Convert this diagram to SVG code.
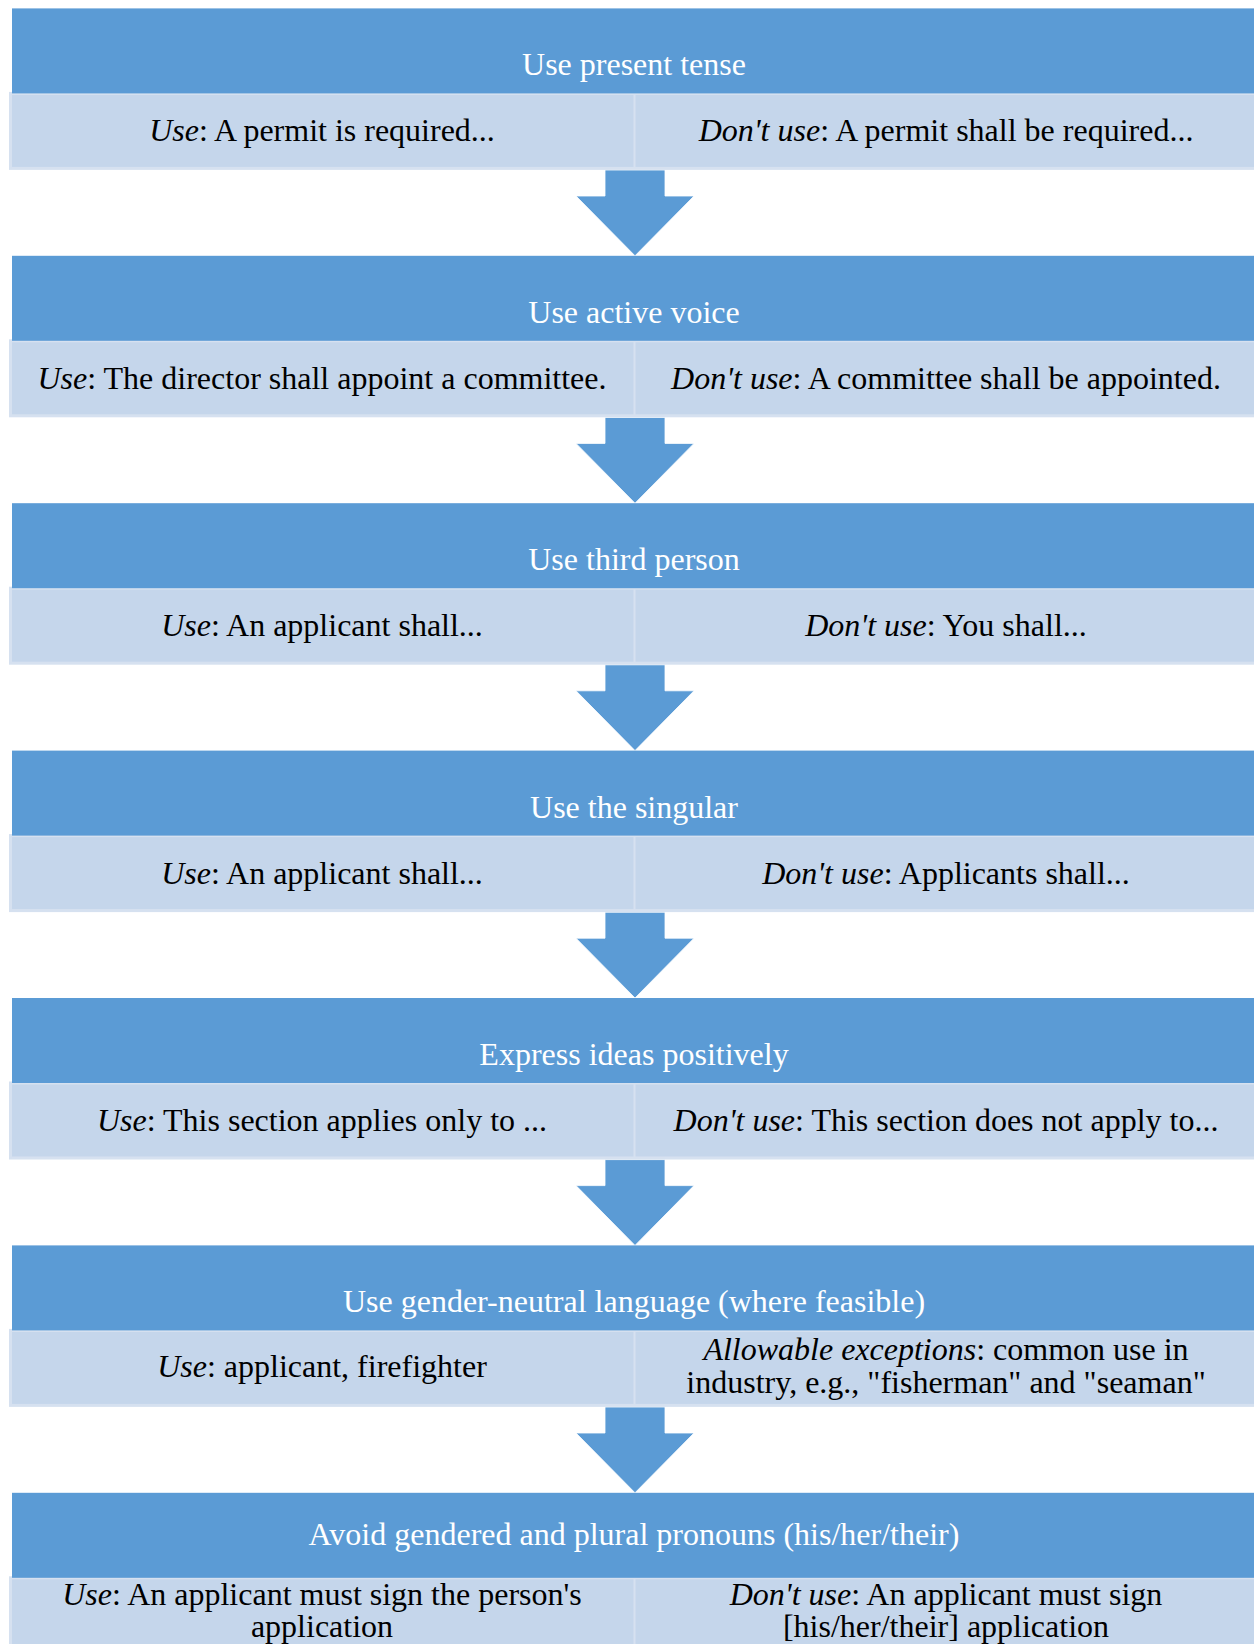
<svg xmlns="http://www.w3.org/2000/svg" width="1254" height="1644" viewBox="0 0 1254 1644">
<style>
  .hdr { fill: #5B9BD5; }
  .row { fill: #C5D6EB; stroke: #D6E1F0; stroke-width: 3; }
  .div { stroke: #D6E1F0; stroke-width: 2; }
  .arrow { fill: #5B9BD5; stroke: #FFFFFF; stroke-width: 0.8; }
  text { font-family: "Liberation Serif", "Times New Roman", serif; font-size: 32px; text-anchor: middle; }
  .ht { fill: #FFFFFF; }
  .ct { fill: #000000; }
  .i { font-style: italic; }
</style>
<rect width="1254" height="1644" fill="#FFFFFF"/>

<g id="connectors">
  <polygon class="arrow" points="605,170 665,170 665,196 694,196 635,255.8 576,196 605,196"/>
  <polygon class="arrow" points="605,417.4 665,417.4 665,443.4 694,443.4 635,503.2 576,443.4 605,443.4"/>
  <polygon class="arrow" points="605,664.8 665,664.8 665,690.8 694,690.8 635,750.6 576,690.8 605,690.8"/>
  <polygon class="arrow" points="605,912.2 665,912.2 665,938.2 694,938.2 635,998 576,938.2 605,938.2"/>
  <polygon class="arrow" points="605,1159.6 665,1159.6 665,1185.6 694,1185.6 635,1245.4 576,1185.6 605,1185.6"/>
  <polygon class="arrow" points="605,1407 665,1407 665,1433 694,1433 635,1492.8 576,1433 605,1433"/>
</g>

<g id="step1">
  <rect class="row" x="10.5" y="93.4" width="1250" height="75"/>
  <line class="div" x1="634.5" y1="93.4" x2="634.5" y2="168.4"/>
  <rect class="hdr" x="12" y="8.4" width="1250" height="85"/>
  <text class="ht" x="634" y="75.4">Use present tense</text>
  <text class="ct" x="322" y="141.4"><tspan class="i">Use</tspan>: A permit is required...</text>
  <text class="ct" x="946" y="141.4"><tspan class="i">Don't use</tspan>: A permit shall be required...</text>
</g>

<g id="step2">
  <rect class="row" x="10.5" y="340.8" width="1250" height="75"/>
  <line class="div" x1="634.5" y1="340.8" x2="634.5" y2="415.8"/>
  <rect class="hdr" x="12" y="255.8" width="1250" height="85"/>
  <text class="ht" x="634" y="322.8">Use active voice</text>
  <text class="ct" x="322" y="388.8"><tspan class="i">Use</tspan>: The director shall appoint a committee.</text>
  <text class="ct" x="946" y="388.8"><tspan class="i">Don't use</tspan>: A committee shall be appointed.</text>
</g>

<g id="step3">
  <rect class="row" x="10.5" y="588.2" width="1250" height="75"/>
  <line class="div" x1="634.5" y1="588.2" x2="634.5" y2="663.2"/>
  <rect class="hdr" x="12" y="503.2" width="1250" height="85"/>
  <text class="ht" x="634" y="570.2">Use third person</text>
  <text class="ct" x="322" y="636.2"><tspan class="i">Use</tspan>: An applicant shall...</text>
  <text class="ct" x="946" y="636.2"><tspan class="i">Don't use</tspan>: You shall...</text>
</g>

<g id="step4">
  <rect class="row" x="10.5" y="835.6" width="1250" height="75"/>
  <line class="div" x1="634.5" y1="835.6" x2="634.5" y2="910.6"/>
  <rect class="hdr" x="12" y="750.6" width="1250" height="85"/>
  <text class="ht" x="634" y="817.6">Use the singular</text>
  <text class="ct" x="322" y="883.6"><tspan class="i">Use</tspan>: An applicant shall...</text>
  <text class="ct" x="946" y="883.6"><tspan class="i">Don't use</tspan>: Applicants shall...</text>
</g>

<g id="step5">
  <rect class="row" x="10.5" y="1083" width="1250" height="75"/>
  <line class="div" x1="634.5" y1="1083" x2="634.5" y2="1158"/>
  <rect class="hdr" x="12" y="998" width="1250" height="85"/>
  <text class="ht" x="634" y="1065">Express ideas positively</text>
  <text class="ct" x="322" y="1131"><tspan class="i">Use</tspan>: This section applies only to ...</text>
  <text class="ct" x="946" y="1131"><tspan class="i">Don't use</tspan>: This section does not apply to...</text>
</g>

<g id="step6">
  <rect class="row" x="10.5" y="1330.4" width="1250" height="75"/>
  <line class="div" x1="634.5" y1="1330.4" x2="634.5" y2="1405.4"/>
  <rect class="hdr" x="12" y="1245.4" width="1250" height="85"/>
  <text class="ht" x="634" y="1312">Use gender-neutral language (where feasible)</text>
  <text class="ct" x="322" y="1377"><tspan class="i">Use</tspan>: applicant, firefighter</text>
  <text class="ct" x="946" y="1360"><tspan class="i">Allowable exceptions</tspan>: common use in</text>
  <text class="ct" x="946" y="1393">industry, e.g., "fisherman" and "seaman"</text>
</g>

<g id="step7">
  <rect class="row" x="10.5" y="1577.8" width="1250" height="75"/>
  <line class="div" x1="634.5" y1="1577.8" x2="634.5" y2="1652.8"/>
  <rect class="hdr" x="12" y="1492.8" width="1250" height="85"/>
  <text class="ht" x="634" y="1545">Avoid gendered and plural pronouns (his/her/their)</text>
  <text class="ct" x="322" y="1605"><tspan class="i">Use</tspan>: An applicant must sign the person's</text>
  <text class="ct" x="322" y="1637">application</text>
  <text class="ct" x="946" y="1605"><tspan class="i">Don't use</tspan>: An applicant must sign</text>
  <text class="ct" x="946" y="1637">[his/her/their] application</text>
</g>
</svg>
